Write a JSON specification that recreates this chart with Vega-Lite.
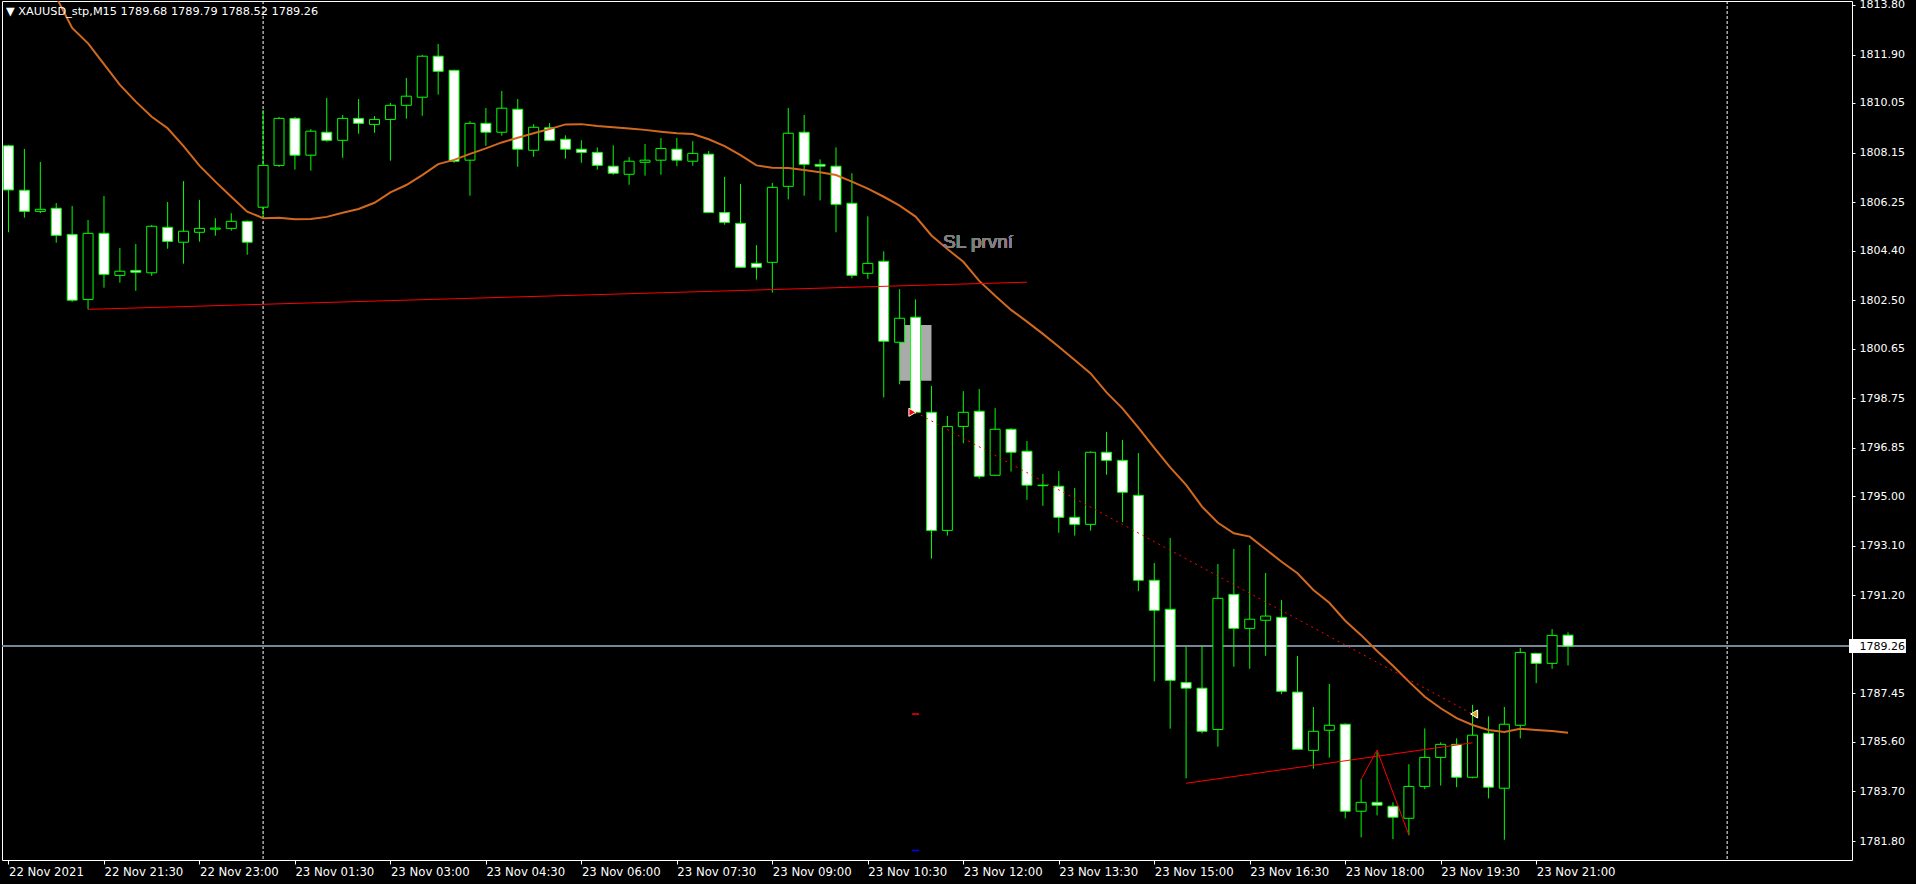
{
"$schema": "https://vega.github.io/schema/vega-lite/v6.json",
"width": 1850, "height": 859,
"autosize": {"type": "none"},
"padding": {"left": 2, "top": 1, "right": 64, "bottom": 24},
"background": "black",
"config": {"view": {"stroke": "white", "strokeWidth": 1, "fill": "black"}},
"title": {"text": "▼ XAUUSD_stp,M15  1789.68 1789.79 1788.52 1789.26", "anchor": "start", "frame": "group", "orient": "top", "offset": -12, "dy": 12, "baseline": "middle", "dx": 4, "font": "DejaVu Sans", "fontSize": 11.3, "fontWeight": "normal", "color": "white"},
"datasets": {"bars": [
{"k":0,"o":1808.41,"h":1808.45,"l":1805.10,"c":1806.72,"ma":1817.9},
{"k":1,"o":1806.71,"h":1808.29,"l":1805.66,"c":1805.90,"ma":1816.6},
{"k":2,"o":1805.90,"h":1807.79,"l":1805.83,"c":1805.98,"ma":1815.35},
{"k":3,"o":1806.02,"h":1806.22,"l":1804.70,"c":1804.98,"ma":1814.1},
{"k":4,"o":1805.02,"h":1806.11,"l":1802.44,"c":1802.50,"ma":1812.92},
{"k":5,"o":1802.53,"h":1805.57,"l":1802.15,"c":1805.06,"ma":1812.33},
{"k":6,"o":1805.06,"h":1806.49,"l":1802.98,"c":1803.49,"ma":1811.54},
{"k":7,"o":1803.45,"h":1804.50,"l":1803.17,"c":1803.61,"ma":1810.74},
{"k":8,"o":1803.64,"h":1804.65,"l":1802.86,"c":1803.57,"ma":1810.10},
{"k":9,"o":1803.55,"h":1805.38,"l":1803.43,"c":1805.33,"ma":1809.52},
{"k":10,"o":1805.29,"h":1806.26,"l":1804.47,"c":1804.75,"ma":1809.08},
{"k":11,"o":1804.72,"h":1807.06,"l":1803.90,"c":1805.14,"ma":1808.40},
{"k":12,"o":1805.10,"h":1806.34,"l":1804.74,"c":1805.25,"ma":1807.65},
{"k":13,"o":1805.22,"h":1805.64,"l":1804.97,"c":1805.26,"ma":1807.04},
{"k":14,"o":1805.25,"h":1805.83,"l":1805.16,"c":1805.52,"ma":1806.46},
{"k":15,"o":1805.52,"h":1805.55,"l":1804.24,"c":1804.72,"ma":1805.89},
{"k":16,"o":1806.06,"h":1809.78,"l":1805.64,"c":1807.66,"ma":1805.64},
{"k":17,"o":1807.66,"h":1809.51,"l":1807.60,"c":1809.46,"ma":1805.66},
{"k":18,"o":1809.46,"h":1809.51,"l":1807.50,"c":1808.05,"ma":1805.60},
{"k":19,"o":1808.05,"h":1809.05,"l":1807.46,"c":1808.97,"ma":1805.61},
{"k":20,"o":1808.93,"h":1810.24,"l":1808.57,"c":1808.62,"ma":1805.69},
{"k":21,"o":1808.62,"h":1809.59,"l":1807.95,"c":1809.46,"ma":1805.85},
{"k":22,"o":1809.46,"h":1810.20,"l":1808.87,"c":1809.27,"ma":1805.99},
{"k":23,"o":1809.23,"h":1809.55,"l":1808.91,"c":1809.42,"ma":1806.23},
{"k":24,"o":1809.42,"h":1810.05,"l":1807.84,"c":1809.96,"ma":1806.63},
{"k":25,"o":1809.96,"h":1811.01,"l":1809.45,"c":1810.31,"ma":1806.91},
{"k":26,"o":1810.27,"h":1811.89,"l":1809.56,"c":1811.84,"ma":1807.29},
{"k":27,"o":1811.84,"h":1812.31,"l":1810.37,"c":1811.26,"ma":1807.71},
{"k":28,"o":1811.30,"h":1811.32,"l":1807.76,"c":1807.82,"ma":1807.87},
{"k":29,"o":1807.86,"h":1809.36,"l":1806.50,"c":1809.27,"ma":1808.10},
{"k":30,"o":1809.27,"h":1809.86,"l":1808.41,"c":1808.93,"ma":1808.31},
{"k":31,"o":1808.93,"h":1810.51,"l":1808.80,"c":1809.85,"ma":1808.54},
{"k":32,"o":1809.81,"h":1810.20,"l":1807.61,"c":1808.28,"ma":1808.72},
{"k":33,"o":1808.24,"h":1809.24,"l":1807.99,"c":1809.12,"ma":1808.89},
{"k":34,"o":1809.10,"h":1809.28,"l":1808.60,"c":1808.62,"ma":1809.05},
{"k":35,"o":1808.66,"h":1808.81,"l":1807.92,"c":1808.28,"ma":1809.23},
{"k":36,"o":1808.28,"h":1808.62,"l":1807.76,"c":1808.16,"ma":1809.24},
{"k":37,"o":1808.16,"h":1808.35,"l":1807.50,"c":1807.66,"ma":1809.17},
{"k":38,"o":1807.63,"h":1808.43,"l":1807.30,"c":1807.36,"ma":1809.12},
{"k":39,"o":1807.32,"h":1807.98,"l":1806.92,"c":1807.82,"ma":1809.07},
{"k":40,"o":1807.78,"h":1808.48,"l":1807.27,"c":1807.86,"ma":1809.02},
{"k":41,"o":1807.86,"h":1808.71,"l":1807.30,"c":1808.31,"ma":1808.95},
{"k":42,"o":1808.28,"h":1808.71,"l":1807.63,"c":1807.86,"ma":1808.89},
{"k":43,"o":1807.82,"h":1808.59,"l":1807.65,"c":1808.12,"ma":1808.86},
{"k":44,"o":1808.09,"h":1808.21,"l":1805.84,"c":1805.86,"ma":1808.66},
{"k":45,"o":1805.86,"h":1807.22,"l":1805.39,"c":1805.48,"ma":1808.40},
{"k":46,"o":1805.44,"h":1806.95,"l":1803.74,"c":1803.76,"ma":1808.05},
{"k":47,"o":1803.91,"h":1804.61,"l":1803.29,"c":1803.76,"ma":1807.66},
{"k":48,"o":1803.95,"h":1806.99,"l":1802.79,"c":1806.82,"ma":1807.57},
{"k":49,"o":1806.86,"h":1809.86,"l":1806.36,"c":1808.89,"ma":1807.56},
{"k":50,"o":1808.93,"h":1809.59,"l":1806.50,"c":1807.70,"ma":1807.48},
{"k":51,"o":1807.70,"h":1807.89,"l":1806.32,"c":1807.63,"ma":1807.40},
{"k":52,"o":1807.63,"h":1808.35,"l":1805.10,"c":1806.17,"ma":1807.29},
{"k":53,"o":1806.21,"h":1807.36,"l":1803.34,"c":1803.45,"ma":1807.04},
{"k":54,"o":1803.53,"h":1805.71,"l":1803.32,"c":1803.91,"ma":1806.77},
{"k":55,"o":1803.99,"h":1804.37,"l":1798.78,"c":1800.93,"ma":1806.46},
{"k":56,"o":1800.89,"h":1802.92,"l":1799.28,"c":1801.81,"ma":1806.12},
{"k":57,"o":1801.85,"h":1802.53,"l":1798.15,"c":1798.21,"ma":1805.70},
{"k":58,"o":1798.21,"h":1799.22,"l":1792.61,"c":1793.69,"ma":1804.98},
{"k":59,"o":1793.69,"h":1798.07,"l":1793.49,"c":1797.67,"ma":1804.46},
{"k":60,"o":1797.67,"h":1799.02,"l":1797.02,"c":1798.21,"ma":1803.97},
{"k":61,"o":1798.25,"h":1799.10,"l":1795.67,"c":1795.76,"ma":1803.24},
{"k":62,"o":1795.80,"h":1798.37,"l":1795.78,"c":1797.56,"ma":1802.67},
{"k":63,"o":1797.56,"h":1797.60,"l":1795.94,"c":1796.68,"ma":1802.13},
{"k":64,"o":1796.72,"h":1797.11,"l":1794.86,"c":1795.42,"ma":1801.68},
{"k":65,"o":1795.42,"h":1795.85,"l":1794.63,"c":1795.40,"ma":1801.21},
{"k":66,"o":1795.38,"h":1795.96,"l":1793.60,"c":1794.19,"ma":1800.72},
{"k":67,"o":1794.19,"h":1795.31,"l":1793.49,"c":1793.92,"ma":1800.21},
{"k":68,"o":1793.92,"h":1796.71,"l":1793.68,"c":1796.68,"ma":1799.70},
{"k":69,"o":1796.68,"h":1797.46,"l":1795.82,"c":1796.37,"ma":1798.97},
{"k":70,"o":1796.37,"h":1797.15,"l":1794.00,"c":1795.15,"ma":1798.36},
{"k":71,"o":1795.03,"h":1796.65,"l":1791.36,"c":1791.78,"ma":1797.62},
{"k":72,"o":1791.78,"h":1792.44,"l":1787.91,"c":1790.63,"ma":1796.85},
{"k":73,"o":1790.67,"h":1793.40,"l":1786.10,"c":1787.95,"ma":1796.10},
{"k":74,"o":1787.87,"h":1789.24,"l":1784.20,"c":1787.65,"ma":1795.43},
{"k":75,"o":1787.65,"h":1789.29,"l":1785.92,"c":1786.00,"ma":1794.60},
{"k":76,"o":1786.07,"h":1792.40,"l":1785.41,"c":1791.09,"ma":1793.98},
{"k":77,"o":1791.24,"h":1792.98,"l":1788.47,"c":1789.94,"ma":1793.58},
{"k":78,"o":1789.94,"h":1793.13,"l":1788.39,"c":1790.29,"ma":1793.45},
{"k":79,"o":1790.25,"h":1792.06,"l":1788.89,"c":1790.41,"ma":1792.97},
{"k":80,"o":1790.36,"h":1791.02,"l":1787.42,"c":1787.53,"ma":1792.49},
{"k":81,"o":1787.50,"h":1788.88,"l":1785.30,"c":1785.31,"ma":1792.05},
{"k":82,"o":1785.27,"h":1786.93,"l":1784.57,"c":1786.00,"ma":1791.41},
{"k":83,"o":1786.04,"h":1787.81,"l":1784.99,"c":1786.23,"ma":1790.92},
{"k":84,"o":1786.27,"h":1786.30,"l":1782.67,"c":1782.94,"ma":1790.23},
{"k":85,"o":1782.94,"h":1784.16,"l":1781.94,"c":1783.28,"ma":1789.68},
{"k":86,"o":1783.28,"h":1785.22,"l":1782.78,"c":1783.17,"ma":1789.07},
{"k":87,"o":1783.13,"h":1783.28,"l":1781.87,"c":1782.71,"ma":1788.51},
{"k":88,"o":1782.67,"h":1784.74,"l":1782.02,"c":1783.89,"ma":1787.90},
{"k":89,"o":1783.89,"h":1786.11,"l":1783.78,"c":1785.00,"ma":1787.32},
{"k":90,"o":1785.00,"h":1785.58,"l":1783.92,"c":1785.50,"ma":1786.88},
{"k":91,"o":1785.50,"h":1785.73,"l":1783.86,"c":1784.24,"ma":1786.50},
{"k":92,"o":1784.24,"h":1787.01,"l":1784.20,"c":1785.85,"ma":1786.24},
{"k":93,"o":1785.92,"h":1786.57,"l":1783.43,"c":1783.86,"ma":1786.05},
{"k":94,"o":1783.82,"h":1786.93,"l":1781.85,"c":1786.27,"ma":1785.97},
{"k":95,"o":1786.23,"h":1789.19,"l":1785.73,"c":1789.02,"ma":1786.10},
{"k":96,"o":1788.98,"h":1789.00,"l":1787.84,"c":1788.60,"ma":1786.05},
{"k":97,"o":1788.60,"h":1789.91,"l":1788.39,"c":1789.67,"ma":1786.01},
{"k":98,"o":1789.68,"h":1789.79,"l":1788.52,"c":1789.26,"ma":1785.94}
]},
"data": {"name": "bars"},
"layer": [
{"data": {"values": [{"k": 16}, {"k": 108}]},
 "mark": {"type": "rule", "color": "white", "strokeWidth": 1, "strokeDash": [3, 2]},
 "encoding": {
  "x": {"field": "k", "type": "quantitative", "title": null, "scale": {"domain": [-0.09375, 115.53125], "nice": false, "zero": false}}
 }},
{"mark": {"type": "rule", "color": "#778899", "strokeWidth": 1},
 "encoding": {"y": {"datum": 1789.26, "type": "quantitative", "title": null, "scale": {"domain": [1781.073, 1813.953], "nice": false, "zero": false}}}},
{"data": {"values": [{"k1": 56, "k2": 58, "p1": 1801.55, "p2": 1799.42}]},
 "mark": {"type": "rect", "fill": "#aaaaaa"},
 "encoding": {
  "x": {"field": "k1", "type": "quantitative", "title": null, "scale": {"domain": [-0.09375, 115.53125], "nice": false, "zero": false}},
  "x2": {"field": "k2"},
  "y": {"field": "p1", "type": "quantitative", "title": null, "scale": {"domain": [1781.073, 1813.953], "nice": false, "zero": false}},
  "y2": {"field": "p2"}}},
{"mark": {"type": "rule", "color": "#00ff00", "strokeWidth": 1, "clip": true},
 "encoding": {
  "x": {"field": "k", "type": "quantitative", "title": null, "scale": {"domain": [-0.09375, 115.53125], "nice": false, "zero": false},
   "axis": {"values": [0,6,12,18,24,30,36,42,48,54,60,66,72,78,84,90,96], "labelExpr": "['22 Nov 2021','22 Nov 21:30','22 Nov 23:00','23 Nov 01:30','23 Nov 03:00','23 Nov 04:30','23 Nov 06:00','23 Nov 07:30','23 Nov 09:00','23 Nov 10:30','23 Nov 12:00','23 Nov 13:30','23 Nov 15:00','23 Nov 16:30','23 Nov 18:00','23 Nov 19:30','23 Nov 21:00'][round(datum.value/6)]", "title": null, "grid": false, "domain": false, "ticks": true, "tickSize": 4, "tickColor": "white", "labelColor": "white", "labelAlign": "left", "labelBaseline": "top", "labelPadding": 1, "labelFont": "Liberation Sans Narrow, DejaVu Sans Condensed, Arial Narrow, sans-serif", "labelFontSize": 13, "labelFlush": false, "labelOverlap": false}},
  "y": {"field": "l", "type": "quantitative", "title": null, "scale": {"domain": [1781.073, 1813.953], "nice": false, "zero": false},
   "axis": {"values": [1813.80, 1811.90, 1810.05, 1808.15, 1806.25, 1804.40, 1802.50, 1800.65, 1798.75, 1796.85, 1795.00, 1793.10, 1791.20, 1789.26, 1787.45, 1785.60, 1783.70, 1781.80], "format": ".2f", "orient": "right", "title": null, "grid": false, "domain": false, "tickSize": 3, "tickColor": "white", "labelPadding": 4, "labelFont": "DejaVu Sans", "labelFontSize": 11, "labelColor": {"condition": {"test": "datum.value > 1789.2 && datum.value < 1789.3", "value": "black"}, "value": "white"}, "labelOverlap": false, "labelFlush": false, "zindex": 1}},
  "y2": {"field": "h"}}},
{"mark": {"type": "bar", "width": 10, "stroke": "#00ff00", "strokeWidth": 1, "clip": true},
 "encoding": {
  "x": {"field": "k", "type": "quantitative", "title": null, "scale": {"domain": [-0.09375, 115.53125], "nice": false, "zero": false}},
  "y": {"field": "o", "type": "quantitative", "title": null, "scale": {"domain": [1781.073, 1813.953], "nice": false, "zero": false}},
  "y2": {"field": "c"},
  "fill": {"condition": {"test": "datum.c < datum.o", "value": "white"}, "value": "black"}}},
{"mark": {"type": "line", "color": "#D2691E", "strokeWidth": 2, "clip": true},
 "encoding": {
  "x": {"field": "k", "type": "quantitative", "title": null, "scale": {"domain": [-0.09375, 115.53125], "nice": false, "zero": false}},
  "y": {"field": "ma", "type": "quantitative", "title": null, "scale": {"domain": [1781.073, 1813.953], "nice": false, "zero": false}}}},
{"data": {"values": [
  {"id": "a", "k": 5, "p": 1802.15}, {"id": "a", "k": 64, "p": 1803.19},
  {"id": "c", "k": 74, "p": 1784.01}, {"id": "c", "k": 92, "p": 1785.56},
  {"id": "d", "k": 85, "p": 1784.16}, {"id": "d", "k": 86, "p": 1785.28}, {"id": "d", "k": 88, "p": 1782.03}]},
 "mark": {"type": "line", "color": "#ff0000", "strokeWidth": 1},
 "encoding": {
  "x": {"field": "k", "type": "quantitative", "title": null, "scale": {"domain": [-0.09375, 115.53125], "nice": false, "zero": false}},
  "y": {"field": "p", "type": "quantitative", "title": null, "scale": {"domain": [1781.073, 1813.953], "nice": false, "zero": false}},
  "detail": {"field": "id"}}},
{"data": {"values": [{"k": 57, "p": 1798.21}, {"k": 92, "p": 1786.66}]},
 "mark": {"type": "line", "color": "#ff0000", "strokeWidth": 1, "strokeDash": [2, 4]},
 "encoding": {
  "x": {"field": "k", "type": "quantitative", "title": null, "scale": {"domain": [-0.09375, 115.53125], "nice": false, "zero": false}},
  "y": {"field": "p", "type": "quantitative", "title": null, "scale": {"domain": [1781.073, 1813.953], "nice": false, "zero": false}}}},
{"data": {"values": [{"k1": 56.78, "k2": 57.22, "p": 1786.66, "t": "sl"}, {"k1": 56.78, "k2": 57.22, "p": 1781.44, "t": "tp"}]},
 "mark": {"type": "rule", "strokeWidth": 1.5},
 "encoding": {
  "x": {"field": "k1", "type": "quantitative", "title": null, "scale": {"domain": [-0.09375, 115.53125], "nice": false, "zero": false}},
  "x2": {"field": "k2"},
  "y": {"field": "p", "type": "quantitative", "title": null, "scale": {"domain": [1781.073, 1813.953], "nice": false, "zero": false}},
  "color": {"field": "t", "type": "nominal", "scale": {"domain": ["sl", "tp"], "range": ["#ff0000", "#0000ff"]}, "legend": null}}},
{"data": {"values": [{"k": 56.8, "p": 1798.21}]},
 "mark": {"type": "point", "shape": "triangle-right", "filled": true, "fill": "#ff0000", "stroke": "white", "strokeWidth": 1, "size": 65, "opacity": 1},
 "encoding": {
  "x": {"field": "k", "type": "quantitative", "title": null, "scale": {"domain": [-0.09375, 115.53125], "nice": false, "zero": false}},
  "y": {"field": "p", "type": "quantitative", "title": null, "scale": {"domain": [1781.073, 1813.953], "nice": false, "zero": false}}}},
{"data": {"values": [{"k": 92.1, "p": 1786.66}]},
 "mark": {"type": "point", "shape": "triangle-left", "filled": true, "fill": "#DAA520", "stroke": "white", "strokeWidth": 1, "size": 65, "opacity": 1},
 "encoding": {
  "x": {"field": "k", "type": "quantitative", "title": null, "scale": {"domain": [-0.09375, 115.53125], "nice": false, "zero": false}},
  "y": {"field": "p", "type": "quantitative", "title": null, "scale": {"domain": [1781.073, 1813.953], "nice": false, "zero": false}}}},
{"mark": {"type": "text", "text": "SL první", "align": "left", "baseline": "alphabetic", "font": "Liberation Sans", "fontSize": 19, "color": "#7f7f7f"},
 "encoding": {
  "x": {"datum": 58.73, "type": "quantitative", "title": null, "scale": {"domain": [-0.09375, 115.53125], "nice": false, "zero": false}},
  "y": {"datum": 1804.50, "type": "quantitative", "title": null, "scale": {"domain": [1781.073, 1813.953], "nice": false, "zero": false}}}},
{"mark": {"type": "point", "shape": "M-1,-0.25H1V0.25H-1Z", "filled": true, "fill": "white", "strokeWidth": 0, "size": 3136, "opacity": 1},
 "encoding": {
  "x": {"datum": 117.42, "type": "quantitative", "title": null, "scale": {"domain": [-0.09375, 115.53125], "nice": false, "zero": false}},
  "y": {"datum": 1789.26, "type": "quantitative", "title": null, "scale": {"domain": [1781.073, 1813.953], "nice": false, "zero": false}}}}
]
}
